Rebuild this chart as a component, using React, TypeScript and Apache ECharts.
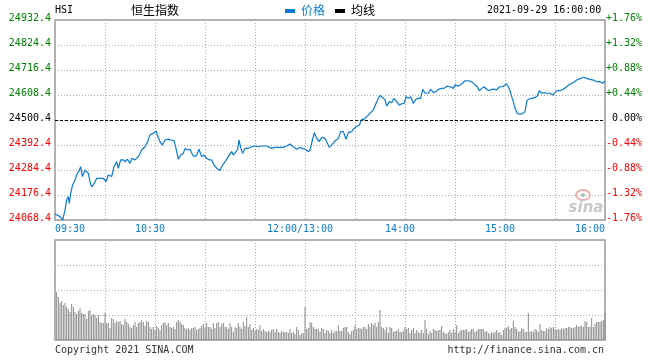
import React, { useEffect, useRef } from "react";
import * as echarts from "echarts";

const prevClose = 24500.4;

// minute index from 09:30 (0) to 16:00 (330), lunch break collapsed at 150
const priceMinutes = [
  0, 3, 4.6, 6, 7, 8, 8.6, 9.4, 10.6, 12, 13, 14.6, 15.4, 16.4, 18, 19, 20, 21, 22, 23,
  25, 27, 29, 30.6, 32, 34, 35.4, 37, 38, 39.4, 41, 42, 43.4, 45, 46, 48, 50, 52, 54, 55.6,
  57, 59, 60.6, 61.4, 63, 64.4, 66, 68, 69.4, 71.4, 72.6, 74, 75.4, 77, 78, 79.4, 81, 82.6, 84, 85,
  86.4, 88, 89.4, 91, 92.6, 94, 95.4, 97, 99, 100, 102, 104, 106, 107, 108.6, 109.6, 110.4, 111.4, 112.6, 114,
  116, 118, 120, 122, 124, 127, 130, 132, 135, 137, 139, 141, 143, 145, 147, 150, 152, 153, 154, 155.6,
  157, 158.6, 160, 162, 163.4, 164.6, 166, 168, 170, 171.4, 173, 174.6, 176, 178, 179.4, 181, 182.6, 184, 185.4, 187,
  189, 191, 192.6, 194, 195, 196.6, 198, 199, 200.6, 202, 203.4, 205, 206.6, 208, 209.4, 210.6, 212, 213.4, 215, 216.6,
  218, 219.4, 220.6, 222, 224, 225.4, 227, 228.6, 230, 232, 233.4, 235.4, 237, 239, 240, 242, 244, 246, 248, 250,
  252, 253.4, 254.6, 256, 257.4, 259, 260.6, 262, 263.4, 265, 266.6, 268.6, 270, 271, 272, 273, 274, 275, 276, 277.4,
  279, 280.6, 282, 283, 284, 286, 288, 289.4, 290.6, 292, 293.4, 295, 297, 298.6, 300, 301, 303, 305, 307, 309,
  311, 313, 315.4, 317, 319, 321, 323, 325, 327, 328.6, 330
];

const prices = [
  24094, 24083, 24068.4, 24111, 24155, 24169, 24140, 24184, 24220, 24241, 24263, 24284, 24299, 24256, 24284, 24277, 24270, 24234, 24212, 24220,
  24248, 24248, 24248, 24234, 24263, 24256, 24299, 24320, 24292, 24328, 24328, 24320, 24331, 24313, 24335, 24328, 24342, 24371, 24385, 24407,
  24436, 24443, 24453, 24436, 24407, 24392, 24414, 24418, 24414, 24411, 24378, 24331, 24349, 24356, 24378, 24371, 24374, 24349, 24342, 24349,
  24374, 24342, 24349, 24335, 24328, 24328, 24306, 24292, 24282, 24299, 24320, 24342, 24364, 24349, 24364, 24374, 24414, 24382, 24356, 24378,
  24378, 24385, 24388, 24385, 24388, 24388, 24378, 24382, 24382, 24382, 24388, 24397, 24385, 24374, 24382, 24374, 24364, 24371, 24400, 24446,
  24421, 24407, 24426, 24421, 24400, 24382, 24392, 24410, 24421, 24450, 24450, 24417, 24446, 24450, 24464, 24472, 24479, 24503, 24503, 24515,
  24529, 24544, 24572, 24594, 24606, 24598, 24587, 24561, 24580, 24575, 24594, 24580, 24565, 24570, 24572, 24601, 24594, 24601, 24572, 24590,
  24594, 24594, 24633, 24616, 24616, 24633, 24620, 24623, 24633, 24637, 24637, 24647, 24644, 24637, 24652, 24647, 24656, 24670, 24670, 24666,
  24652, 24644, 24626, 24637, 24644, 24633, 24627, 24633, 24634, 24630, 24644, 24644, 24652, 24656, 24644, 24627, 24601, 24580, 24551, 24529,
  24525, 24529, 24536, 24580, 24590, 24594, 24598, 24604, 24627, 24616, 24619, 24616, 24616, 24608, 24619, 24627, 24627, 24633, 24644, 24656,
  24662, 24673, 24680, 24685, 24680, 24676, 24673, 24666, 24666, 24659, 24669
];

// volume per minute, first bar at minute 1 (relative units, panel max 100)
const volumes = [
  48, 43, 37, 39, 35, 37, 33, 31, 28, 36,
  33, 28, 26, 29, 32, 27, 26, 26, 21, 29,
  30, 24, 26, 25, 22, 25, 18, 17, 17, 27,
  17, 17, 12, 22, 21, 17, 19, 18, 19, 16,
  15, 21, 18, 16, 13, 12, 15, 18, 13, 17,
  18, 20, 18, 14, 19, 18, 13, 11, 13, 10,
  14, 12, 10, 15, 17, 18, 15, 17, 13, 12,
  13, 11, 18, 20, 18, 16, 15, 12, 11, 12,
  10, 12, 12, 13, 10, 11, 12, 14, 16, 12,
  17, 13, 13, 11, 17, 12, 17, 18, 13, 16,
  17, 13, 13, 11, 17, 13, 8, 13, 12, 17,
  13, 11, 18, 14, 23, 13, 16, 10, 12, 9,
  11, 10, 15, 9, 11, 9, 8, 9, 8, 10,
  11, 8, 11, 8, 7, 9, 8, 8,
  8, 7, 11, 7, 8, 6, 13, 10, 5, 7,
  7,
  33, 11, 12, 18, 17, 13, 11, 11, 11, 8, 12, 11, 7, 10, 9,
  7, 10, 7, 9, 9, 15, 9, 9, 12, 13,
  13, 8, 6, 9, 10, 15, 11, 12, 12, 11,
  13, 13, 11, 16, 13, 17, 15, 17, 13, 18,
  30, 13, 12, 10, 13, 7, 13, 12, 8, 9,
  9, 11, 8, 8, 9, 13, 11, 12, 7, 10,
  12, 7, 10, 8, 7, 10, 7, 20, 11, 6,
  9, 7, 11, 10, 9, 10, 10, 14, 8, 7,
  6, 8, 10, 7, 11, 8, 15, 7, 9, 10,
  10, 10, 11, 8, 9, 11, 11, 8, 9, 11,
  11, 11, 11, 8, 9, 7, 6, 8, 7, 8,
  10, 7, 8, 5, 10, 12, 12, 14, 11, 12,
  19, 13, 11, 8, 9, 12, 11, 8, 8, 27,
  8, 9, 8, 11, 10, 8, 16, 10, 9, 9,
  12, 11, 13, 12, 13,
  11, 10, 11, 10, 12, 11, 12, 12, 13, 13,
  12, 12, 13, 15, 13, 14, 14, 13, 19, 18,
  13, 13, 22, 13, 16, 18, 18, 18, 19, 20,
  27
];

const xLabelMinutes = [0, 60, 150, 210, 270, 330];
const xLabels = ["09:30", "10:30", "12:00/13:00", "14:00", "15:00", "16:00"];

const MONO = "DejaVu Sans Mono";
const CJK = "Noto Sans CJK SC";
const BLUE = "#0a7bd1";
const GREEN = "#008000";
const RED = "#ff0000";
const GRIDC = "#aaaaaa";
const BORDER = "#9a9a9a";

function tickColor(v: any) {
  const n = Number(v);
  if (Math.abs(n) < 0.001) return "#000";
  return n > 0 ? GREEN : RED;
}

export default function App() {
  const ref = useRef<HTMLDivElement>(null);
  useEffect(() => {
    if (!ref.current) return;
    const chart = echarts.init(ref.current, undefined, { renderer: "svg" });
    const dotted = { show: true, lineStyle: { color: GRIDC, type: [1, 2] as any, width: 1 } };
    const option: any = {
      animation: false,
      grid: [
        { left: 55, top: 20, width: 550, height: 200, show: true, borderColor: BORDER, borderWidth: 1.5 },
        { left: 55, top: 240, width: 550, height: 100, show: true, borderColor: BORDER, borderWidth: 1.5 },
      ],
      xAxis: [
        {
          type: "value", gridIndex: 0, min: 0, max: 330, interval: 30,
          axisLine: { show: false }, axisTick: { show: false }, splitLine: dotted,
          axisLabel: {
            show: true, color: BLUE, fontFamily: MONO, fontSize: 10, margin: 3,
            alignMinLabel: "left", alignMaxLabel: "right",
            showMinLabel: true, showMaxLabel: true, hideOverlap: false,
            formatter: (v: number) => {
              const i = xLabelMinutes.indexOf(Math.round(v));
              if (i < 0) return "";
              if (i === 0 || i === xLabels.length - 1) return xLabels[i];
              return "{m|" + xLabels[i] + "}";
            },
            rich: { m: { color: BLUE, fontFamily: MONO, fontSize: 10, padding: [0, 10, 0, 0] } },
          },
        },
        {
          type: "value", gridIndex: 1, min: 0, max: 330, interval: 30,
          axisLine: { show: false }, axisTick: { show: false }, axisLabel: { show: false }, splitLine: dotted,
        },
      ],
      yAxis: [
        {
          type: "value", gridIndex: 0, min: -432, max: 432, interval: 108, position: "left",
          axisLine: { show: false }, axisTick: { show: false }, splitLine: dotted,
          axisLabel: {
            fontFamily: MONO, fontSize: 10, margin: 4, verticalAlign: "bottom", lineHeight: 5,
            color: (v: any) => tickColor(v),
            formatter: (v: number) => (prevClose + v).toFixed(1),
          },
        },
        {
          type: "value", gridIndex: 0, min: -432, max: 432, interval: 108, position: "right",
          axisLine: { show: false }, axisTick: { show: false }, splitLine: { show: false },
          axisLabel: {
            fontFamily: MONO, fontSize: 10, margin: 37, align: "right", verticalAlign: "bottom", lineHeight: 5,
            color: (v: any) => tickColor(v),
            formatter: (v: number) => (v > 0.001 ? "+" : "") + ((v / prevClose) * 100).toFixed(2) + "%",
          },
        },
        {
          type: "value", gridIndex: 1, min: 0, max: 100, interval: 25,
          axisLine: { show: false }, axisTick: { show: false }, axisLabel: { show: false }, splitLine: dotted,
        },
      ],
      series: [
        {
          name: "价格", type: "line", xAxisIndex: 0, yAxisIndex: 0,
          data: priceMinutes.map((m, i) => [m, prices[i] - prevClose]),
          showSymbol: false, symbol: "none",
          lineStyle: { color: BLUE, width: 1.2 },
          z: 5,
          markLine: {
            silent: true, symbol: "none", label: { show: false },
            lineStyle: { color: "#000", type: [3, 2], width: 1 },
            data: [{ yAxis: 0 }],
          },
        },
        {
          name: "成交量", type: "bar", xAxisIndex: 1, yAxisIndex: 2,
          data: volumes.map((v, i) => [i + 1, v]),
          barWidth: 1, itemStyle: { color: "#8a8a8a" },
        },
      ],
      graphic: [
        { type: "text", left: 55, top: 4, style: { text: "HSI", fontFamily: MONO, fontSize: 10, fill: "#000" } },
        { type: "text", left: 131, top: 3, style: { text: "恒生指数", fontFamily: CJK, fontSize: 12, fill: "#000" } },
        { type: "rect", shape: { x: 285, y: 9, width: 10, height: 4 }, style: { fill: BLUE } },
        { type: "text", left: 301, top: 3, style: { text: "价格", fontFamily: CJK, fontSize: 12, fill: BLUE } },
        { type: "rect", shape: { x: 335, y: 9, width: 10, height: 4 }, style: { fill: "#000" } },
        { type: "text", left: 351, top: 3, style: { text: "均线", fontFamily: CJK, fontSize: 12, fill: "#000" } },
        { type: "text", left: 487, top: 4, style: { text: "2021-09-29 16:00:00", fontFamily: MONO, fontSize: 10, fill: "#000" } },
        { type: "text", left: 55, top: 344, style: { text: "Copyright 2021 SINA.COM", fontFamily: MONO, fontSize: 10, fill: "#333" } },
        { type: "text", right: 56, top: 344, style: { text: "http://finance.sina.com.cn", fontFamily: MONO, fontSize: 10, fill: "#333" } },
        { type: "ellipse", shape: { cx: 583, cy: 195, rx: 7, ry: 5 }, style: { fill: "none", stroke: "#eab0b0", lineWidth: 2 }, z: 1 },
        { type: "circle", shape: { cx: 583, cy: 195, r: 2 }, style: { fill: "#b8b8b8" }, z: 1 },
        { type: "text", x: 586, y: 207, style: { text: "sina", fontFamily: "DejaVu Sans", fontStyle: "italic", fontWeight: "bold", fontSize: 15, fill: "#c8c8c8", align: "center", verticalAlign: "middle" }, z: 1 },
      ],
    };
    chart.setOption(option);
    return () => chart.dispose();
  }, []);
  return <div ref={ref} style={{ position: "fixed", left: 0, top: 0, width: 660, height: 360 }} />;
}
